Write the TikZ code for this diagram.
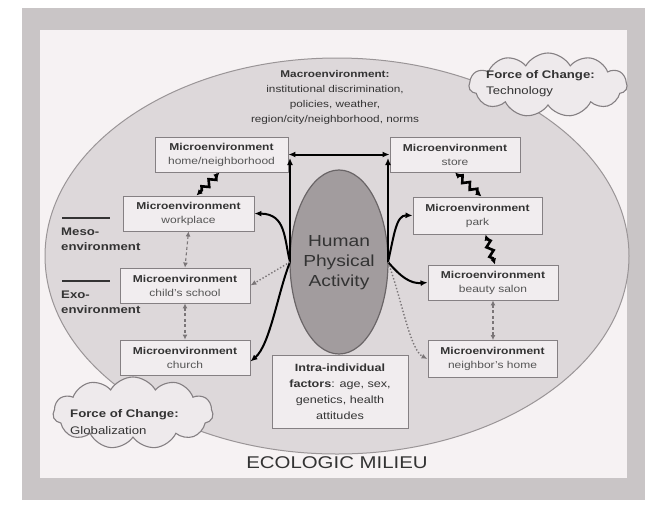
\documentclass[tikz,border=0pt]{standalone}
\usepackage{fontspec}
\setmainfont{Liberation Sans}[FakeStretch=1.2]
\usetikzlibrary{shapes.symbols,shapes.geometric,arrows.meta,decorations.pathmorphing,calc}
\definecolor{framegray}{HTML}{C9C5C6}
\definecolor{innerbg}{HTML}{F6F2F3}
\definecolor{milieufill}{HTML}{DDD8DA}
\definecolor{milieuline}{HTML}{9A9597}
\definecolor{boxfill}{HTML}{F1EDEF}
\definecolor{boxline}{HTML}{858083}
\definecolor{humanfill}{HTML}{A29C9E}
\definecolor{humanline}{HTML}{6A6567}
\definecolor{cloudfill}{HTML}{EEEAEC}
\definecolor{txtgray}{HTML}{333333}
\definecolor{subgray}{HTML}{555555}
\definecolor{dotgray}{HTML}{7A7577}
\begin{document}
\begin{tikzpicture}[x=1pt,y=-1pt,
  microbox/.style={draw=boxline, line width=0.9pt, fill=boxfill, minimum width=130pt, minimum height=35pt,
    align=center, inner sep=2pt, font=\fontsize{10}{14}\selectfont, text=txtgray},
  blk/.style={line width=2pt, black, line cap=round},
  tipk/.style={-{Latex[length=7pt,width=6pt]}},
  bolt/.style={line width=2.6pt, black, decorate,
    decoration={zigzag, segment length=10pt, amplitude=3pt, pre length=5pt, post length=5pt},
    {Latex[length=6pt,width=6pt]}-{Latex[length=6pt,width=6pt]}},
  dasharr/.style={line width=1.1pt, dotgray, dash pattern=on 3pt off 2.5pt,
    {Latex[length=5pt,width=5pt]}-{Latex[length=5pt,width=5pt]}},
  dotarr/.style={line width=1.4pt, dotgray, dotted, -{Latex[length=6pt,width=5pt]}},
  cloudsty/.style={cloud, cloud puffs=11, cloud puff arc=120, draw=boxline, line width=1.1pt, fill=cloudfill}
]
\useasboundingbox (0,0) rectangle (656,512);
\fill[white] (0,0) rectangle (656,512);
\fill[framegray] (22,8) rectangle (645,500);
\fill[innerbg] (40,30) rectangle (627,478);

% ecologic milieu ellipse
\node[ellipse, draw=milieuline, line width=1pt, fill=milieufill, minimum width=584pt, minimum height=396pt] (milieu) at (337,256) {};

% clouds
\node[cloudsty, minimum width=158pt, minimum height=64pt] (cloudT) at (548,85) {};
\node[cloudsty, minimum width=160pt, minimum height=72pt] (cloudG) at (133,413) {};
\node[anchor=west, align=left, inner sep=0pt, font=\fontsize{11}{16}\selectfont, text=txtgray] (cloudTtxt) at (486,84)
  {{\bfseries Force of Change:}\\Technology};
\node[anchor=west, align=left, inner sep=0pt, font=\fontsize{11}{17}\selectfont, text=txtgray] (cloudGtxt) at (70,422)
  {{\bfseries Force of Change:}\\Globalization};

% macro text
\node[align=center, inner sep=0pt, font=\fontsize{9.8}{15}\selectfont, text=txtgray] (macro) at (335,97)
  {{\bfseries Macroenvironment:}\\institutional discrimination,\\policies, weather,\\region/city/neighborhood, norms};

% meso / exo labels
\draw[line width=1.6pt, txtgray] (62,218) -- (110,218);
\node[anchor=north west, align=left, inner sep=0pt, font=\bfseries\fontsize{11}{15}\selectfont, text=txtgray] (meso) at (61,228)
  {Meso-\\environment};
\draw[line width=1.6pt, txtgray] (62,281) -- (110,281);
\node[anchor=north west, align=left, inner sep=0pt, font=\bfseries\fontsize{11}{15}\selectfont, text=txtgray] (exo) at (61,291)
  {Exo-\\environment};

% human physical activity
\node[ellipse, draw=humanline, line width=1.2pt, fill=humanfill, minimum width=98pt, minimum height=184pt] (human) at (339,262) {};
\node[align=center, inner sep=0pt, font=\fontsize{16}{20}\selectfont, text=txtgray] (humantxt) at (339,263)
  {Human\\Physical\\Activity};

% boxes
\node[microbox, minimum width=133pt] (home) at (221.5,154.5) {{\bfseries Microenvironment}\\{\color{subgray}home/neighborhood}};
\node[microbox] (store) at (455,154.5) {{\bfseries Microenvironment}\\{\color{subgray}store}};
\node[microbox, minimum width=131pt] (work) at (188.5,213.5) {{\bfseries Microenvironment}\\{\color{subgray}workplace}};
\node[microbox, minimum width=129pt, minimum height=37pt] (park) at (477.5,215.5) {{\bfseries Microenvironment}\\{\color{subgray}park}};
\node[microbox] (school) at (185,285.5) {{\bfseries Microenvironment}\\{\color{subgray}child's school}};
\node[microbox] (salon) at (493,282.5) {{\bfseries Microenvironment}\\{\color{subgray}beauty salon}};
\node[microbox] (church) at (185,357.5) {{\bfseries Microenvironment}\\{\color{subgray}church}};
\node[microbox, minimum width=129pt, minimum height=37pt] (neigh) at (492.5,359) {{\bfseries Microenvironment}\\{\color{subgray}neighbor's home}};
\node[microbox, minimum width=136pt, minimum height=73pt, font=\fontsize{10.5}{16}\selectfont] (intra) at (340,391.5)
  {{\bfseries Intra-individual}\\{\bfseries factors}: age, sex,\\genetics, health\\attitudes};

% hubs
\coordinate (HL) at (290,262);
\coordinate (HR) at (388,262);
\coordinate (HLtop) at (290,158);
\coordinate (HRtop) at (388,158);

% solid connectors
\draw[blk, {Latex[length=7pt,width=6pt]}-{Latex[length=7pt,width=6pt]}] (home.east) -- (store.west);
\draw[blk, tipk] (HL) -- (HLtop);
\draw[blk, tipk] (HR) -- (HRtop);
\draw[blk, tipk] (HL) .. controls (284,238) and (286,214) .. (work.east);
\draw[blk, tipk] (HL) .. controls (278,292) and (270,345) .. ([yshift=-4pt]church.east);
\draw[blk, tipk] (HR) .. controls (394,236) and (396,215) .. (park.west);
\draw[blk, tipk] (HR) .. controls (400,276) and (410,284) .. (salon.west);

% dotted connectors
\draw[dotarr] (HL) -- (school.east);
\draw[dotarr] (HR) .. controls (402,300) and (410,350) .. (neigh.west);

% lightning connectors
\draw[bolt] ([xshift=-2pt]home.south) -- ([xshift=8pt]work.north);
\draw[bolt] (store.south) -- ([xshift=4pt]park.north);
\draw[bolt] ([xshift=8pt]park.south) -- ([xshift=2pt]salon.north);

% dashed connectors
\draw[dasharr] (work.south) -- (school.north);
\draw[dasharr] (school.south) -- (church.north);
\draw[dasharr] (salon.south) -- (salon.south |- neigh.north);

% title
\node[font=\fontsize{17}{19}\selectfont, text=txtgray] (milieutxt) at (337,463) {ECOLOGIC MILIEU};
\end{tikzpicture}
\end{document}
